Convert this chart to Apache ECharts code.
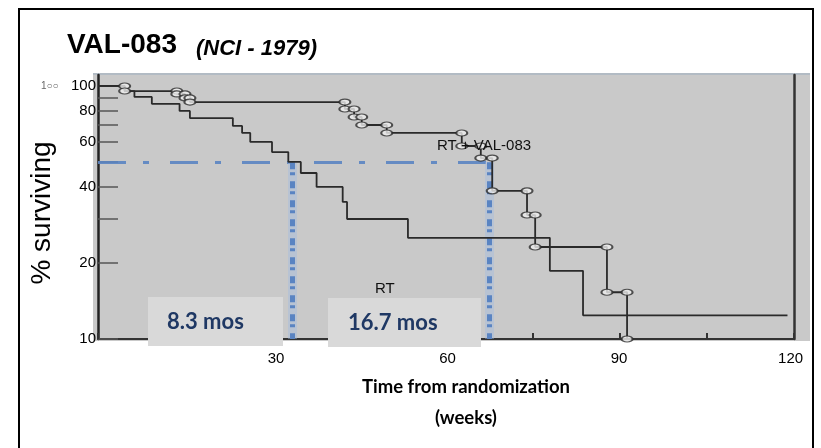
<!DOCTYPE html>
<html><head><meta charset="utf-8">
<script src="https://cdn.jsdelivr.net/npm/echarts@6/dist/echarts.min.js"></script>
<style>html,body{margin:0;padding:0;background:#fff}#c{width:821px;height:448px}</style>
</head><body><div id="c"></div>
<script>
// ---- data (weeks from randomization, % surviving) ----
const rtWeeks  = [0, 4.9, 6.7, 9.9, 15.0, 16.9, 24.8, 26.5, 28.0, 32.0, 35.0, 37.3, 40.2, 45.0, 45.8, 57.0, 83.1, 89.2, 126.8];
const rtSurv   = [100, 95.5, 90.5, 85.0, 79.7, 74.7, 69.5, 65.2, 60.1, 54.8, 50.1, 45.3, 39.9, 34.8, 29.8, 25.1, 18.6, 12.4, 12.4];
const valWeeks = [0, 4.9, 14.5, 16.0, 16.9, 45.4, 47.1, 48.5, 53.1, 66.9, 70.4, 72.5, 78.9, 80.4, 93.6, 97.3];
const valSurv  = [100, 95.5, 93.0, 89.7, 86.4, 81.1, 75.4, 70.1, 65.2, 57.9, 51.9, 38.5, 30.9, 23.1, 15.3, 10];
const seriesNames = ['RT', 'RT + VAL-083'];
const medianWeeks = [35.8, 71.9];
const medianLevel = 50;
const medianLabels = ['8.3 mos', '16.7 mos'];
const yLabelValues = [10, 20, 40, 60, 80, 100];
const yTickValues = [10, 20, 30, 40, 50, 60, 70, 80, 90, 100];
const xLabelValues = [30, 60, 90, 120];

const rtData = rtWeeks.map((w, i) => [w, rtSurv[i]]);
const valData = valWeeks.map((w, i) => [w, valSurv[i]]);
const valCircles = [];
for (let i = 1; i < valWeeks.length; i++) {
  valCircles.push([valWeeks[i], valSurv[i - 1]]);
  valCircles.push([valWeeks[i], valSurv[i]]);
}

const ink = '#2a2a2a';
const blue = '#5a84c2';
const chart = echarts.init(document.getElementById('c'));
chart.setOption({
  animation: false,
  backgroundColor: '#ffffff',
  title: [
    { text: 'VAL-083', left: 62, top: 26, textStyle: { fontFamily: 'Liberation Sans', fontWeight: 'bold', fontSize: 28, color: '#000' } },
    { text: '(NCI - 1979)', left: 191, top: 33, textStyle: { fontFamily: 'Liberation Sans', fontWeight: 'bold', fontStyle: 'italic', fontSize: 22, color: '#000' } }
  ],
  grid: { left: 98, right: 27, top: 75, bottom: 109, containLabel: false },
  xAxis: [
    { type: 'value', min: 0, max: 128, interval: 16, position: 'bottom',
      axisLine: { onZero: false, lineStyle: { color: '#333', width: 2 } },
      axisTick: { inside: true, length: 6, lineStyle: { color: '#333', width: 2 } },
      axisLabel: { show: false }, splitLine: { show: false } },
    { type: 'value', min: -1.14, max: 120.6, position: 'bottom',
      axisLine: { show: false, onZero: false }, axisTick: { show: false }, splitLine: { show: false },
      axisLabel: { customValues: xLabelValues, margin: 12, fontSize: 15, fontFamily: 'Liberation Sans', color: '#000' } }
  ],
  yAxis: [
    { type: 'log', logBase: 10, min: 10, max: 110.5, position: 'left',
      name: '% surviving', nameLocation: 'middle', nameRotate: 90, nameGap: 42,
      nameTextStyle: { fontFamily: 'Liberation Sans', fontSize: 28, color: '#000', padding: [0, 12, 0, 0] },
      axisLine: { onZero: false, lineStyle: { color: '#222', width: 2.5 } },
      axisTick: { inside: true, length: 20, customValues: yTickValues, lineStyle: { color: '#555', width: 1.5 } },
      minorTick: { show: false },
      axisLabel: { customValues: yLabelValues, margin: 2, fontSize: 15, fontFamily: 'Liberation Sans', color: '#000' },
      splitLine: { show: false } },
    { type: 'log', logBase: 10, min: 10, max: 110.5, position: 'right',
      axisLine: { show: true, onZero: false, lineStyle: { color: '#333', width: 2.5 } },
      axisTick: { show: false }, axisLabel: { show: false }, splitLine: { show: false } }
  ],
  series: [
    { name: seriesNames[0], type: 'line', step: 'end', data: rtData, symbol: 'none',
      lineStyle: { color: ink, width: 1.8 }, z: 3 },
    { name: seriesNames[1], type: 'line', step: 'end', data: valData, symbol: 'none',
      lineStyle: { color: ink, width: 1.8 }, z: 3,
      markLine: { silent: true, symbol: ['none', 'none'], label: { show: false }, z: 2,
        data: [
          [{ coord: [0, medianLevel], lineStyle: { color: blue, width: 3, type: [28, 17, 6, 21], opacity: 0.9 } }, { coord: [medianWeeks[1], medianLevel] }],
          [{ coord: [medianWeeks[0], medianLevel], lineStyle: { color: 'rgba(160,188,228,0.4)', width: 9, type: 'solid' } }, { coord: [medianWeeks[0], 10] }],
          [{ coord: [medianWeeks[1], medianLevel], lineStyle: { color: 'rgba(160,188,228,0.4)', width: 9, type: 'solid' } }, { coord: [medianWeeks[1], 10] }],
          [{ coord: [medianWeeks[0], medianLevel], lineStyle: { color: blue, width: 5, type: [7, 3, 3, 6] } }, { coord: [medianWeeks[0], 10] }],
          [{ coord: [medianWeeks[1], medianLevel], lineStyle: { color: blue, width: 5, type: [7, 3, 3, 6] } }, { coord: [medianWeeks[1], 10] }]
        ] } },
    { name: seriesNames[1] + ' events', type: 'scatter', data: valCircles, symbol: 'circle', symbolSize: [11, 6],
      itemStyle: { color: '#eeeeee', borderColor: ink, borderWidth: 1.6 }, z: 4 }
  ],
  graphic: [
    { type: 'rect', z: -10, shape: { x: 93, y: 73, width: 717, height: 268 }, style: { fill: '#c9c9c9' } },
    { type: 'line', z: -9, shape: { x1: 93, y1: 74, x2: 810, y2: 74 }, style: { stroke: '#aab6c2', lineWidth: 1.5 } },
    { type: 'text', z: 5, x: 41, y: 86, style: { text: '1○○', fontSize: 10, fill: '#666', verticalAlign: 'middle' } },
    { type: 'rect', z: 10, shape: { x: 148, y: 297, width: 135, height: 49 }, style: { fill: '#d9d9d9' } },
    { type: 'text', z: 11, x: 167, y: 322, style: { text: medianLabels[0], font: 'bold 22px Lato', fill: '#1f3864', verticalAlign: 'middle' } },
    { type: 'rect', z: 10, shape: { x: 328, y: 298, width: 153, height: 49 }, style: { fill: '#d9d9d9' } },
    { type: 'text', z: 11, x: 348, y: 323, style: { text: medianLabels[1], font: 'bold 22px Lato', fill: '#1f3864', verticalAlign: 'middle' } },
    { type: 'text', z: 11, x: 437, y: 146, style: { text: seriesNames[1], font: '15px "Liberation Sans"', fill: '#111', verticalAlign: 'middle' } },
    { type: 'text', z: 11, x: 375, y: 289, style: { text: seriesNames[0], font: '15px "Liberation Sans"', fill: '#111', verticalAlign: 'middle' } },
    { type: 'text', z: 11, x: 466, y: 387, style: { text: 'Time from randomization', font: 'bold 18.5px Lato', fill: '#000', align: 'center', verticalAlign: 'middle' } },
    { type: 'text', z: 11, x: 466, y: 418, style: { text: '(weeks)', font: 'bold 18.5px Lato', fill: '#000', align: 'center', verticalAlign: 'middle' } },
    { type: 'rect', z: 20, shape: { x: 19, y: 9, width: 794, height: 460 }, style: { fill: 'none', stroke: '#000', lineWidth: 2 } }
  ]
});
</script></body></html>
